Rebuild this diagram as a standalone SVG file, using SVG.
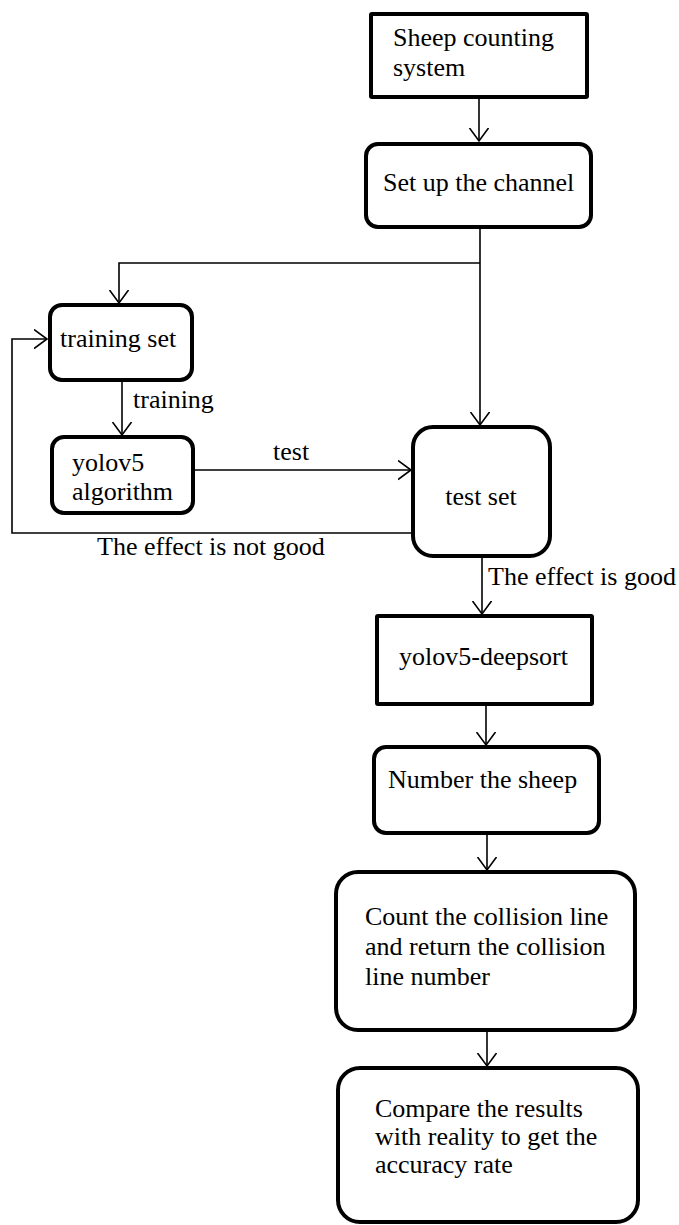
<svg xmlns="http://www.w3.org/2000/svg" width="679" height="1225" viewBox="0 0 679 1225" font-family="'Liberation Serif', 'DejaVu Serif', serif" font-size="26">
  <defs>
    <style>
      .box { fill: #ffffff; stroke: #000000; stroke-width: 4; }
      .wire { fill: none; stroke: #000000; stroke-width: 1.6; }
      text { font-family: 'Liberation Serif', 'DejaVu Serif', serif; font-size: 26px; fill: #000000; }
    </style>
    <marker id="open-arrow" markerUnits="userSpaceOnUse" markerWidth="16" markerHeight="22" refX="13" refY="10" orient="auto" viewBox="0 0 16 22">
      <path d="M0,0.5 L13,10 L0,19.5" fill="none" stroke="#000000" stroke-width="1.6"/>
    </marker>
  </defs>
  <rect width="679" height="1225" fill="#ffffff"/>

  <!-- connectors -->
  <g id="connectors">
    <line class="wire" x1="479" y1="97" x2="479" y2="141" marker-end="url(#open-arrow)"/>
    <line class="wire" x1="480" y1="227" x2="480" y2="425" marker-end="url(#open-arrow)"/>
    <polyline class="wire" points="480,263 119,263 119,303" marker-end="url(#open-arrow)"/>
    <line class="wire" x1="122" y1="380" x2="122" y2="435" marker-end="url(#open-arrow)"/>
    <line class="wire" x1="193" y1="470" x2="411" y2="470" marker-end="url(#open-arrow)"/>
    <polyline class="wire" points="413,533 12,533 12,339 47,339" marker-end="url(#open-arrow)"/>
    <line class="wire" x1="482" y1="556" x2="482" y2="614" marker-end="url(#open-arrow)"/>
    <line class="wire" x1="486" y1="704" x2="486" y2="745" marker-end="url(#open-arrow)"/>
    <line class="wire" x1="487" y1="833" x2="487" y2="870" marker-end="url(#open-arrow)"/>
    <line class="wire" x1="487" y1="1030" x2="487" y2="1066" marker-end="url(#open-arrow)"/>
    <text x="133" y="408">training</text>
    <text x="273" y="460">test</text>
    <text x="97" y="555">The effect is not good</text>
    <text x="488" y="585">The effect is good</text>
  </g>

  <!-- nodes -->
  <g id="sheep-counting-system">
    <rect class="box" x="371" y="14" width="216" height="83" rx="1"/>
    <text x="393" y="46">Sheep counting</text>
    <text x="393" y="76">system</text>
  </g>
  <g id="set-up-channel">
    <rect class="box" x="366" y="144" width="225" height="83" rx="12"/>
    <text x="383" y="191">Set up the channel</text>
  </g>
  <g id="training-set">
    <rect class="box" x="50" y="305" width="142" height="75" rx="12"/>
    <text x="60" y="347">training set</text>
  </g>
  <g id="yolov5-algorithm">
    <rect class="box" x="52" y="437" width="141" height="76" rx="12"/>
    <text x="72" y="471">yolov5</text>
    <text x="72" y="500">algorithm</text>
  </g>
  <g id="test-set">
    <rect class="box" x="413" y="427" width="137" height="129" rx="20"/>
    <text x="481" y="505" text-anchor="middle">test set</text>
  </g>
  <g id="yolov5-deepsort">
    <rect class="box" x="377" y="616" width="215" height="88" rx="1"/>
    <text x="399" y="665">yolov5-deepsort</text>
  </g>
  <g id="number-sheep">
    <rect class="box" x="374" y="747" width="225" height="86" rx="12"/>
    <text x="388" y="788">Number the sheep</text>
  </g>
  <g id="count-collision">
    <rect class="box" x="336" y="872" width="299" height="158" rx="22"/>
    <text x="365" y="925">Count the collision line</text>
    <text x="365" y="955">and return the collision</text>
    <text x="365" y="985">line number</text>
  </g>
  <g id="compare-results">
    <rect class="box" x="338" y="1068" width="300" height="154" rx="22"/>
    <text x="375" y="1117">Compare the results</text>
    <text x="375" y="1145">with reality to get the</text>
    <text x="375" y="1173">accuracy rate</text>
  </g>
</svg>
